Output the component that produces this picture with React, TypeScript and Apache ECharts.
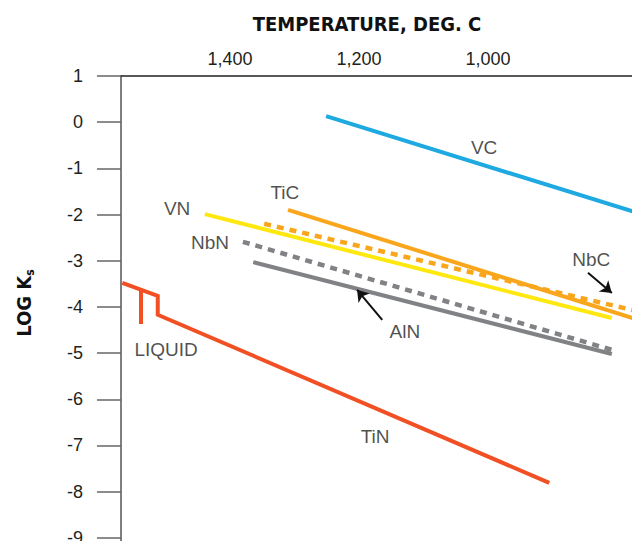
import React, { useEffect, useRef } from "react";
import * as echarts from "echarts";

// Temperature (deg C) and log Ks values
const vcT = [1251, 760];
const vcV = [0.13, -2.0];
const ticT = [1310, 760];
const ticV = [-1.9, -4.31];
const nbcT = [1347, 760];
const nbcV = [-2.2, -4.12];
const vnT = [1439, 808];
const vnV = [-1.99, -4.24];
const nbnT = [1380, 808];
const nbnV = [-2.59, -4.93];
const alnT = [1364, 808];
const alnV = [-3.03, -5.02];
const tinT = [1567, 1512, 1512, 905];
const tinV = [-3.48, -3.76, -4.17, -7.81];
const liquidSpurT = [1538, 1538];
const liquidSpurV = [-3.65, -4.37];

const labelNames = ["VC", "TiC", "NbC", "VN", "NbN", "AlN", "TiN", "LIQUID"];
const labelT = [1006, 1315, 840, 1482, 1431, 1129, 1175, 1499];
const labelV = [-0.54, -1.53, -2.98, -1.86, -2.61, -4.54, -6.81, -4.93];

const arrowFromT = [845, 1164];
const arrowFromV = [-3.26, -4.28];
const arrowToT = [808, 1203];
const arrowToV = [-3.7, -3.63];

const xTickLabels = [1000, 1200, 1400];

const pts = (t: number[], v: number[]) => t.map((x, i) => [x, v[i]]);

const TXT = "#231f20";
const FONT = "'Liberation Sans', Arial, Helvetica, sans-serif";
const COND = "'Liberation Sans Narrow', 'DejaVu Sans Condensed', 'Liberation Sans', sans-serif";

export default function App() {
  const ref = useRef<HTMLDivElement>(null);
  useEffect(() => {
    document.body.style.margin = "0";
    if (!ref.current) return;
    const chart = echarts.init(ref.current, undefined, { renderer: "svg" });
    const line = (name: string, data: number[][], color: string, width: number, dashed = false, z = 2) => ({
      type: "line",
      name,
      data,
      showSymbol: false,
      symbol: "none",
      silent: true,
      z,
      lineStyle: { color, width, type: dashed ? [7, 6] : "solid", cap: "butt", join: "miter" },
    });
    chart.setOption({
      animation: false,
      grid: { left: 121, top: 76, width: 625, height: 508, containLabel: false, outerBoundsMode: "none" },
      xAxis: {
        type: "value",
        position: "top",
        inverse: true,
        min: 600,
        max: 1569,
        interval: 200,
        splitLine: { show: false },
        axisTick: { show: false },
        axisLine: { show: true, onZero: false, lineStyle: { color: "#222", width: 1.5 } },
        axisLabel: {
          margin: 8,
          fontSize: 18,
          color: TXT,
          fontFamily: FONT,
          showMaxLabel: false,
          formatter: (v: number) => (xTickLabels.indexOf(v) >= 0 ? v.toLocaleString("en-US") : ""),
        },
      },
      yAxis: {
        type: "value",
        min: -10,
        max: 1,
        interval: 1,
        splitLine: { show: false },
        axisLine: { show: true, onZero: false, lineStyle: { color: "#555", width: 1.5 } },
        axisTick: { show: true, length: 24, inside: false, lineStyle: { color: "#666", width: 1.5 } },
        axisLabel: { margin: 38, fontSize: 18, color: TXT, fontFamily: FONT },
      },
      graphic: [
        {
          type: "text",
          x: 367,
          y: 24,
          style: {
            text: "TEMPERATURE, DEG. C",
            fontSize: 20,
            fontWeight: "bold",
            fontFamily: COND,
            fill: "#111",
            textAlign: "center",
            textVerticalAlign: "middle",
          },
        },
        {
          type: "text",
          x: 24,
          y: 303,
          rotation: Math.PI / 2,
          style: {
            text: "{a|LOG K}{b|s}",
            textAlign: "center",
            textVerticalAlign: "middle",
            rich: {
              a: { fontSize: 20, fontWeight: "bold", fontFamily: COND, fill: "#111", lineHeight: 24 },
              b: { fontSize: 12, fontWeight: "bold", fontFamily: COND, fill: "#111", lineHeight: 12, verticalAlign: "bottom" },
            },
          },
        },
      ],
      series: [
        line("VC", pts(vcT, vcV), "#1ea9e1", 4),
        line("TiC", pts(ticT, ticV), "#f9a61c", 4),
        line("VN", pts(vnT, vnV), "#ffe810", 4),
        line("AlN", pts(alnT, alnV), "#808285", 4),
        line("TiN", pts(tinT, tinV), "#f15024", 4),
        line("LIQUID", pts(liquidSpurT, liquidSpurV), "#f15024", 4),
        line("NbC", pts(nbcT, nbcV), "#f9a61c", 4.5, true, 3),
        line("NbN", pts(nbnT, nbnV), "#808285", 4.5, true, 3),
        {
          type: "lines",
          coordinateSystem: "cartesian2d",
          silent: true,
          z: 4,
          symbol: ["none", "arrow"],
          symbolSize: 11,
          lineStyle: { color: "#111", width: 2, opacity: 1 },
          data: arrowFromT.map((t, i) => ({ coords: [[t, arrowFromV[i]], [arrowToT[i], arrowToV[i]]] })),
        },
        {
          type: "scatter",
          silent: true,
          symbolSize: 0,
          z: 5,
          label: {
            show: true,
            position: "inside",
            formatter: "{b}",
            fontSize: 19,
            color: TXT,
            fontFamily: FONT,
          },
          data: labelNames.map((n, i) => ({ name: n, value: [labelT[i], labelV[i]] })),
        },
      ],
    });
    return () => chart.dispose();
  }, []);
  return <div ref={ref} style={{ width: 632, height: 541 }} />;
}
